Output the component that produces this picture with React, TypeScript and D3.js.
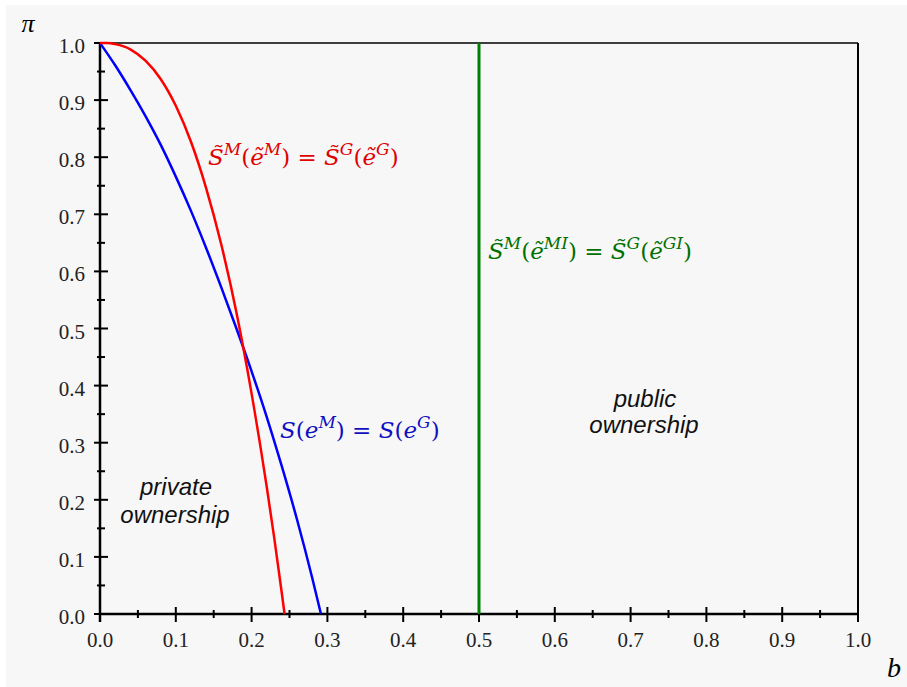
import React from "react";
import * as d3 from "d3";

const redB = [0, 0.01, 0.02, 0.04, 0.06, 0.08, 0.10, 0.12, 0.14, 0.16, 0.18, 0.20, 0.22, 0.23, 0.24, 0.2435];
const redPi = [1, 1.0, 0.998, 0.989, 0.969, 0.937, 0.890, 0.827, 0.746, 0.647, 0.528, 0.386, 0.2225, 0.132, 0.035, 0];
const blueB = [0, 0.02, 0.04, 0.06, 0.08, 0.10, 0.12, 0.14, 0.16, 0.18, 0.20, 0.22, 0.24, 0.26, 0.28, 0.2915];
const bluePi = [1, 0.961, 0.918, 0.872, 0.822, 0.766, 0.706, 0.641, 0.572, 0.500, 0.425, 0.345, 0.258, 0.165, 0.063, 0];
const greenB = [0.5, 0.5];
const greenPi = [0, 1];
const xTicks = [0, 0.1, 0.2, 0.3, 0.4, 0.5, 0.6, 0.7, 0.8, 0.9, 1.0];
const yTicks = [0, 0.1, 0.2, 0.3, 0.4, 0.5, 0.6, 0.7, 0.8, 0.9, 1.0];

const W = 907, H = 687;
const L = 100, R = 858, T = 43, B = 614;
const SERIF = "'Liberation Serif', 'Times New Roman', serif";
const MATH = "'DejaVu Serif', serif";

export default function App() {
  const x = d3.scaleLinear().domain([0, 1]).range([L, R]);
  const y = d3.scaleLinear().domain([0, 1]).range([B, T]);
  const line = d3.line<[number, number]>().x(d => x(d[0])).y(d => y(d[1])).curve(d3.curveMonotoneX);
  const lineLin = d3.line<[number, number]>().x(d => x(d[0])).y(d => y(d[1]));
  const red = redB.map((b, i) => [b, redPi[i]] as [number, number]);
  const blue = blueB.map((b, i) => [b, bluePi[i]] as [number, number]);
  const green = greenB.map((b, i) => [b, greenPi[i]] as [number, number]);
  const minor = d3.range(0, 10).map(i => i * 0.1 + 0.05);
  const it = (t: string) => <tspan fontStyle="italic">{t}</tspan>;
  const sup = (t: string) => <tspan fontStyle="italic" fontSize={17} dy={-10}>{t}</tspan>;
  const down = (t: string) => <tspan dy={10}>{t}</tspan>;
  const tickStyle = { fontFamily: SERIF, fontSize: 21 } as React.CSSProperties;
  const mathStyle = { fontFamily: MATH, fontSize: 23 } as React.CSSProperties;
  const sansStyle = { fontFamily: "'Liberation Sans', Arial, sans-serif", fontStyle: "italic", fontSize: 24 } as React.CSSProperties;
  return (
    <svg width={W} height={H} style={{ position: "absolute", left: 0, top: 0 }}>
      <rect x={0} y={0} width={W} height={H} fill="#fff" />
      <rect x={6} y={5} width={W - 6} height={H - 5} fill="#f7f7f7" />
      <line x1={L} x2={R} y1={T} y2={T} stroke="#000" strokeWidth={1.5} />
      <line x1={R} x2={R} y1={T} y2={B + 8} stroke="#000" strokeWidth={2} />
      <line x1={L} x2={R} y1={B} y2={B} stroke="#000" strokeWidth={2.5} />
      <line x1={L} x2={L} y1={T} y2={B + 8} stroke="#000" strokeWidth={2.5} />
      {xTicks.map(t => (
        <g key={"x" + t}>
          {t > 0 && t < 1 && <line x1={x(t)} x2={x(t)} y1={B - 7} y2={B + 8} stroke="#000" strokeWidth={2} />}
          <text x={x(t)} y={647} textAnchor="middle" style={tickStyle} fill="#222">{t.toFixed(1)}</text>
        </g>
      ))}
      {minor.map(t => (
        <line key={"xm" + t} x1={x(t)} x2={x(t)} y1={B - 4} y2={B + 4} stroke="#000" strokeWidth={2} />
      ))}
      {yTicks.map(t => (
        <g key={"y" + t}>
          <line x1={L - 6} x2={L + 8} y1={y(t)} y2={y(t)} stroke="#000" strokeWidth={2} />
          <text x={85} y={y(t) + 10} textAnchor="end" style={tickStyle} fill="#222">{t.toFixed(1)}</text>
        </g>
      ))}
      {minor.map(t => (
        <line key={"ym" + t} x1={L - 3} x2={L + 5} y1={y(t)} y2={y(t)} stroke="#000" strokeWidth={2} />
      ))}
      <path d={lineLin(green) || ""} stroke="#008000" strokeWidth={3} fill="none" />
      <path d={line(blue) || ""} stroke="#0000ff" strokeWidth={2.5} fill="none" />
      <path d={line(red) || ""} stroke="#ff0000" strokeWidth={2.5} fill="none" />
      <text x={28} y={32} textAnchor="middle" style={{ fontFamily: SERIF, fontStyle: "italic", fontSize: 26 }} fill="#000">π</text>
      <text x={894} y={677} textAnchor="middle" style={{ fontFamily: SERIF, fontStyle: "italic", fontSize: 28 }} fill="#000">b</text>
      <text x={208} y={165} style={mathStyle} fill="#e00000">
        {it("S̃")}{sup("M")}{down("(")}{it("ẽ")}{sup("M")}{down(") = ")}{it("S̃")}{sup("G")}{down("(")}{it("ẽ")}{sup("G")}{down(")")}
      </text>
      <text x={488} y={259} style={mathStyle} fill="#007000">
        {it("S̃")}{sup("M")}{down("(")}{it("ẽ")}{sup("MI")}{down(") = ")}{it("S̃")}{sup("G")}{down("(")}{it("ẽ")}{sup("GI")}{down(")")}
      </text>
      <text x={280} y={438} style={mathStyle} fill="#1010c0">
        {it("S")}(<tspan fontStyle="italic">e</tspan>{sup("M")}{down(") = ")}{it("S")}{"("}{it("e")}{sup("G")}{down(")")}
      </text>
      <g style={sansStyle} fill="#111" textAnchor="middle">
        <text x={176} y={495}>private</text>
        <text x={175} y={523}>ownership</text>
        <text x={645} y={407}>public</text>
        <text x={644} y={433}>ownership</text>
      </g>
    </svg>
  );
}
